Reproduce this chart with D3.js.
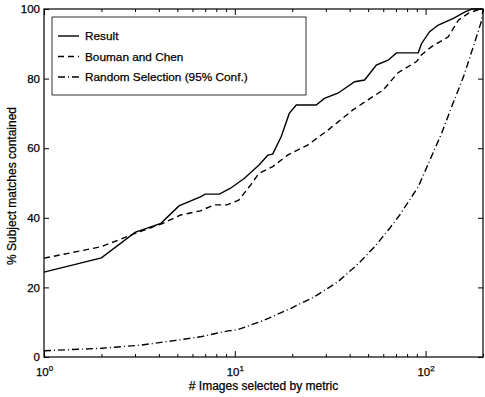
<!DOCTYPE html>
<html>
<head>
<meta charset="utf-8">
<script src="https://cdn.jsdelivr.net/npm/d3@7"></script>
<style>
  body { margin: 0; background: #fff; }
  svg { display: block; font-family: "Liberation Sans", Arial, sans-serif; }
  svg text { stroke: #000; stroke-width: 0.25; }
  .axis path { display: none; }
  .axis line { stroke: #000; stroke-width: 1; }
  .axis text { font-size: 11.5px; fill: #000; }
</style>
</head>
<body>
<svg id="svg"></svg>
<script>
// data
let resultX = [1, 2, 3, 4.1, 5.1, 6.6, 7, 8.3, 9.5, 11.2, 13.4, 14.9, 15.8, 17.5, 19.3, 21, 26.7, 29.5, 34.7, 42.5, 47.9, 55.2, 63.6, 70.4, 91.5, 95.3, 105, 116.6, 140, 161, 175, 200]
let resultY = [24.4, 28.5, 35.8, 38.4, 43.4, 46, 46.8, 46.8, 48.5, 51.3, 55.2, 58, 58.3, 63.3, 70, 72.4, 72.4, 74.3, 75.8, 79.1, 79.6, 83.9, 85.3, 87.4, 87.4, 90.1, 93.5, 95.4, 97.3, 99.2, 100, 100]

let boumanX = [1, 2, 3, 4.2, 5.2, 6.6, 7.8, 9.1, 10.5, 12.1, 13.4, 15.8, 18.9, 24.1, 30.8, 34.7, 41.6, 49.9, 59.9, 71.8, 89.7, 95, 107.6, 131.6, 148.6, 168, 193, 200]
let boumanY = [28.4, 31.7, 35.5, 38.4, 40.8, 42, 43.7, 43.7, 45.1, 49.4, 52.8, 54.7, 58, 60.9, 65.2, 67.5, 71, 73.9, 76.7, 81.7, 84.9, 86.8, 89.2, 92, 96.8, 98.8, 100, 100]

let randomX = [1, 2, 3.2, 4.8, 6.6, 9.2, 10.3, 14.3, 19.7, 26.1, 34.7, 44.2, 54.1, 64.9, 73.2, 91.5, 105.4, 121.4, 137, 158, 178, 197, 200]
let randomY = [1.8, 2.5, 3.4, 4.7, 5.8, 7.5, 7.8, 10.6, 14, 17.3, 21.6, 26.7, 31.7, 37, 40.8, 48.9, 56.6, 64.3, 71.9, 80.5, 89.2, 96.8, 100]

let yTicks = [0, 20, 40, 60, 80, 100]
let xMajor = [1, 10, 100]
let xMinor = [2, 3, 4, 5, 6, 7, 8, 9, 20, 30, 40, 50, 60, 70, 80, 90, 200]

let legendNames = ['Result', 'Bouman and Chen', 'Random Selection (95% Conf.)']
let dashes = [null, '6,4', '7,3,1,3']

let W = 485, H = 397
let margin = { left: 44, right: 2, top: 9, bottom: 40 }

let svg = d3.select('#svg').attr('width', W).attr('height', H)

let x = d3.scaleLog().domain([1, 200]).range([margin.left, W - margin.right])
let y = d3.scaleLinear().domain([0, 100]).range([H - margin.bottom, margin.top])

//axes - ticks pointing inward
let bottom = svg.append('g').attr('class', 'axis')
    .attr('transform', `translate(0,${y(0)})`)
    .call(d3.axisBottom(x).tickValues(xMajor).tickSize(-6).tickPadding(11).tickFormat(() => ''))
bottom.selectAll('.tick text').each(function (d) {
    let t = d3.select(this)
    t.append('tspan').text('10')
    t.append('tspan').attr('dy', '-0.6em').attr('font-size', '8px').text(Math.round(Math.log10(d)))
})
svg.append('g').attr('class', 'axis')
    .attr('transform', `translate(0,${y(0)})`)
    .call(d3.axisBottom(x).tickValues(xMinor).tickSize(-3).tickFormat(''))

svg.append('g').attr('class', 'axis')
    .attr('transform', `translate(0,${y(100)})`)
    .call(d3.axisTop(x).tickValues(xMajor).tickSize(-6).tickFormat(''))
svg.append('g').attr('class', 'axis')
    .attr('transform', `translate(0,${y(100)})`)
    .call(d3.axisTop(x).tickValues(xMinor).tickSize(-3).tickFormat(''))

svg.append('g').attr('class', 'axis')
    .attr('transform', `translate(${x(1)},0)`)
    .call(d3.axisLeft(y).tickValues(yTicks).tickSize(-5).tickPadding(4))
svg.append('g').attr('class', 'axis')
    .attr('transform', `translate(${x(200)},0)`)
    .call(d3.axisRight(y).tickValues(yTicks).tickSize(-5).tickFormat(''))

//frame
svg.append('rect')
    .attr('x', x(1)).attr('y', y(100))
    .attr('width', x(200) - x(1)).attr('height', y(0) - y(100))
    .attr('fill', 'none').attr('stroke', '#000').attr('stroke-width', 1.2)

//lines
let line = d3.line().x(d => x(d[0])).y(d => y(d[1]))
let series = [
    d3.zip(resultX, resultY),
    d3.zip(boumanX, boumanY),
    d3.zip(randomX, randomY)
]
svg.append('g').selectAll('path')
    .data(series)
    .join('path')
    .attr('d', line)
    .attr('fill', 'none')
    .attr('stroke', '#000')
    .attr('stroke-width', 1.4)
    .attr('stroke-dasharray', (d, i) => dashes[i])

//legend
let leg = svg.append('g').attr('transform', 'translate(52,17)')
leg.append('rect')
    .attr('width', 254).attr('height', 78)
    .attr('fill', '#fff').attr('stroke', '#000').attr('stroke-width', 0.8)
let items = leg.selectAll('g.item')
    .data(legendNames)
    .join('g')
    .attr('class', 'item')
    .attr('transform', (d, i) => `translate(0,${19 + i * 20.5})`)
items.append('line')
    .attr('x1', 6).attr('x2', 27)
    .attr('stroke', '#000').attr('stroke-width', 1.4)
    .attr('stroke-dasharray', (d, i) => dashes[i])
items.append('text')
    .attr('x', 33).attr('dy', '0.35em')
    .attr('font-size', '11.8px')
    .text(d => d)

//axis captions
svg.append('text')
    .attr('x', (x(1) + x(200)) / 2).attr('y', 390)
    .attr('text-anchor', 'middle').attr('font-size', '12px')
    .text('# Images selected by metric')
svg.append('text')
    .attr('transform', `translate(16,${(y(0) + y(100)) / 2 + 3}) rotate(-90)`)
    .attr('text-anchor', 'middle').attr('font-size', '12px')
    .text('% Subject matches contained')
</script>
</body>
</html>
